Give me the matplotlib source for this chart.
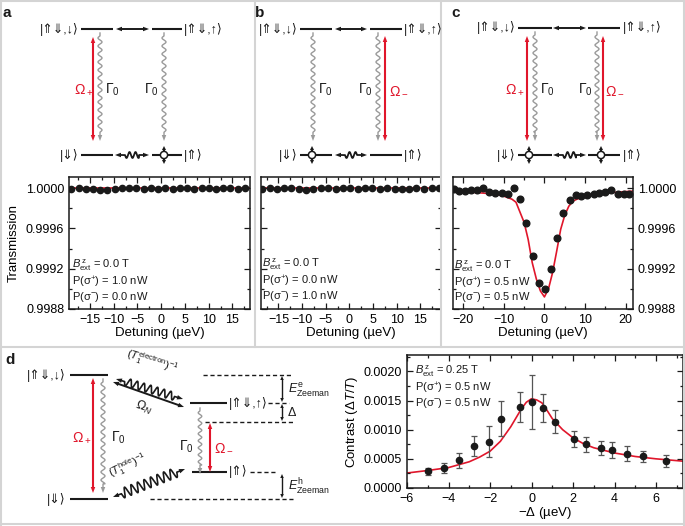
import numpy as np
import matplotlib.pyplot as plt
from matplotlib.patches import Polygon, Circle
from matplotlib.ticker import MultipleLocator, FormatStrFormatter

plt.rcParams['font.family'] = ['Liberation Sans', 'DejaVu Sans']
plt.rcParams['mathtext.fontset'] = 'custom'
plt.rcParams['mathtext.rm'] = 'Liberation Sans'
plt.rcParams['mathtext.it'] = 'Liberation Sans:italic'
plt.rcParams['mathtext.bf'] = 'Liberation Sans:bold'
plt.rcParams['mathtext.fallback'] = 'stixsans'

RED = '#e0162b'
GRAY = '#9a9a9a'
BLK = '#1a1a1a'

# ---- data: panel a (sigma+ only)
a_x = [-18.9, -17.4, -15.9, -14.3, -12.8, -11.3, -9.8, -8.3, -6.7, -5.2, -3.7, -2.2, -0.7,
       0.9, 2.4, 3.9, 5.4, 6.9, 8.5, 10.0, 11.5, 13.0, 14.5, 16.1, 17.6]
a_T = [0.99999, 1.00000, 0.99999, 0.99999, 0.99998, 0.99998, 0.99999, 1.00000, 1.00000, 1.00000,
       0.99999, 1.00000, 0.99999, 1.00000, 0.99999, 1.00000, 1.00000, 0.99999, 1.00000, 1.00000,
       0.99999, 1.00000, 1.00000, 0.99999, 1.00000]

# ---- panel b (sigma- only)
b_x = [-18.5, -16.9, -15.4, -13.8, -12.3, -10.7, -9.1, -7.6, -6.0, -4.5, -2.9, -1.3, 0.2,
       1.8, 3.3, 4.9, 6.5, 8.0, 9.6, 11.1, 12.7, 14.2, 15.8, 17.4, 18.9]
b_T = [0.99999, 1.00000, 0.99999, 1.00000, 1.00000, 0.99999, 0.99998, 0.99999, 1.00000, 1.00000,
       0.99999, 1.00000, 1.00000, 0.99999, 1.00000, 1.00000, 0.99999, 1.00000, 0.99999, 0.99999,
       0.99999, 1.00000, 0.99999, 1.00000, 1.00000]

# ---- panel c (both)
c_x = [-22.2, -21.0, -19.5, -18.1, -16.6, -15.1, -13.6, -12.1, -10.5, -9.0, -7.4, -5.9, -4.5,
       -2.8, -1.4, 0.1, 1.7, 3.1, 4.6, 6.2, 7.7, 9.1, 10.6, 12.1, 13.5, 15.0, 16.5, 18.1, 19.6, 20.9]
c_T = [0.99999, 0.99997, 0.99997, 0.99998, 0.99998, 1.00000, 0.99996, 0.99995, 0.99995, 0.99994,
       1.00000, 0.99989, 0.99965, 0.99933, 0.99906, 0.99900, 0.99920, 0.99950, 0.99975, 0.99988,
       0.99993, 0.99992, 0.99993, 0.99994, 0.99995, 0.99996, 0.99998, 0.99994, 0.99994, 0.99994]
c_fit_x = [-22.5, -18, -15, -12, -10, -8, -7, -6, -5, -4, -3, -2, -1, 0, 1, 2, 3, 4, 5, 6, 7, 8,
           10, 12, 15, 18, 21.8]
c_fit_T = [0.99997, 0.99996, 0.99995, 0.99994, 0.99992, 0.99989, 0.99986, 0.99976, 0.99966,
           0.99949, 0.99926, 0.99910, 0.99898, 0.99892, 0.99900, 0.99916, 0.99937, 0.99959,
           0.99973, 0.99982, 0.99987, 0.99989, 0.99992, 0.99994, 0.99995, 0.99996, 0.99997]

# ---- panel d (contrast vs -Delta)
d_x = [-4.97, -4.22, -3.49, -2.75, -2.03, -1.47, -0.55, 0.01, 0.57, 1.13, 2.05, 2.61, 3.34,
       3.90, 4.62, 5.36, 6.46]
d_C = [0.000285, 0.000343, 0.000473, 0.000713, 0.000794, 0.00119, 0.00139, 0.00148, 0.00137,
       0.00114, 0.000845, 0.000748, 0.00068, 0.00065, 0.000588, 0.000542, 0.000468]
d_err = [0.00006, 0.00008, 0.00013, 0.00017, 0.00027, 0.0003, 0.00025, 0.00046, 0.00024,
         0.0002, 0.00014, 0.00013, 0.00012, 0.00014, 0.00013, 0.0001, 0.0001]
d_fit_x = [-6, -5, -4, -3, -2.5, -2, -1.5, -1, -0.75, -0.5, -0.25, 0, 0.25, 0.5, 0.75, 1, 1.5,
           2, 2.5, 3, 4, 5, 6, 7.3]
d_fit_C = [0.000257, 0.0003, 0.00035, 0.00045, 0.00053, 0.00063, 0.0008, 0.00105, 0.0012,
           0.00135, 0.00147, 0.00153, 0.00151, 0.00146, 0.00133, 0.00119, 0.001, 0.00086,
           0.00076, 0.00069, 0.0006, 0.00054, 0.0005, 0.00046]

W, H = 685, 526
fig = plt.figure(figsize=(W / 100, H / 100), dpi=100)


def px_axes(x0, x1, y0, y1):
    return fig.add_axes([x0 / W, 1 - y1 / H, (x1 - x0) / W, (y1 - y0) / H])


def style(ax):
    ax.tick_params(which='both', direction='in', top=True, right=True, labelsize=9,
                   width=0.9, color=BLK)
    ax.tick_params(which='major', length=4)
    ax.tick_params(which='minor', length=2.5)
    for s in ax.spines.values():
        s.set_linewidth(1.1)
        s.set_color(BLK)


def trans_axes(ax, xlim):
    ax.set_xlim(*xlim)
    ax.set_ylim(0.9988, 1.00011)
    ax.yaxis.set_major_locator(MultipleLocator(0.0004))
    ax.yaxis.set_minor_locator(MultipleLocator(0.0002))
    ax.yaxis.set_major_formatter(FormatStrFormatter('%.4f'))
    style(ax)


axa = px_axes(69, 250, 177, 309)
trans_axes(axa, (-19.4, 18.7))
axa.axhline(1.0, color=RED, lw=1.2, zorder=1)
axa.plot(a_x, a_T, 'o', color=BLK, ms=4.5, zorder=2)
axa.set_xticks([-15, -10, -5, 0, 5, 10, 15])
axa.xaxis.set_minor_locator(MultipleLocator(2.5))
axa.set_ylabel('Transmission', fontsize=9.5, labelpad=4)
axa.set_xlabel('Detuning (µeV)', fontsize=9.5, labelpad=1)

axb = px_axes(261, 441, 177, 309)
trans_axes(axb, (-18.7, 19.4))
axb.axhline(1.0, color=RED, lw=1.2, zorder=1)
axb.plot(b_x, b_T, 'o', color=BLK, ms=4.5, zorder=2)
axb.set_xticks([-15, -10, -5, 0, 5, 10, 15])
axb.xaxis.set_minor_locator(MultipleLocator(2.5))
axb.tick_params(labelleft=False)
axb.set_xlabel('Detuning (µeV)', fontsize=9.5, labelpad=1)

axc = px_axes(453, 633, 177, 309)
trans_axes(axc, (-22.5, 21.8))
axc.plot(c_fit_x, c_fit_T, color=RED, lw=1.2, zorder=1)
axc.plot(c_x, c_T, 'o', color=BLK, ms=4.8, zorder=2)
axc.xaxis.set_major_locator(MultipleLocator(10))
axc.xaxis.set_minor_locator(MultipleLocator(5))
axc.tick_params(labelleft=False, labelright=True)
axc.set_xlabel('Detuning (µeV)', fontsize=9.5, labelpad=1)

axd = px_axes(407, 683, 355, 488)
axd.set_xlim(-6, 7.3)
axd.set_ylim(0, 0.00228)
axd.plot(d_fit_x, d_fit_C, color=RED, lw=1.2, zorder=1)
axd.errorbar(d_x, d_C, yerr=d_err, fmt='o', color=BLK, ecolor='#555555', ms=4.5,
             elinewidth=0.9, capsize=2, capthick=0.9, zorder=2)
axd.xaxis.set_major_locator(MultipleLocator(2))
axd.xaxis.set_minor_locator(MultipleLocator(1))
axd.yaxis.set_major_locator(MultipleLocator(0.0005))
axd.yaxis.set_minor_locator(MultipleLocator(0.00025))
axd.yaxis.set_major_formatter(FormatStrFormatter('%.4f'))
style(axd)
axd.set_ylabel(r'Contrast ($\mathit{Δ}T/T$)', fontsize=9.5, labelpad=3)
axd.set_xlabel(r'$-\mathit{Δ}$ (µeV)', fontsize=9.5, labelpad=0)

# ---- overlay in pixel coordinates for the level diagrams
ov = fig.add_axes([0, 0, 1, 1], facecolor='none')
ov.set_xlim(0, W)
ov.set_ylim(H, 0)
ov.axis('off')


def head(tip, u, color, hl=6, hw=4.5):
    tip = np.asarray(tip, float)
    n = np.array([-u[1], u[0]])
    base = tip - hl * u
    ov.add_patch(Polygon([tip, base + hw / 2 * n, base - hw / 2 * n], closed=True,
                         fc=color, ec='none', zorder=5))


def arrow(p0, p1, color=BLK, lw=1.4, both=True, hl=6, hw=4.5):
    p0, p1 = np.asarray(p0, float), np.asarray(p1, float)
    d = p1 - p0
    u = d / np.hypot(*d)
    a = p0 + (hl * 0.8 * u if both else 0)
    b = p1 - hl * 0.8 * u
    ov.plot([a[0], b[0]], [a[1], b[1]], color=color, lw=lw, solid_capstyle='butt', zorder=4)
    head(p1, u, color, hl, hw)
    if both:
        head(p0, -u, color, hl, hw)


def wavy(p0, p1, color=GRAY, amp=2.0, period=8.0, lw=1.0, both=False, flat=3, hl=6, hw=4.5):
    p0, p1 = np.asarray(p0, float), np.asarray(p1, float)
    d = p1 - p0
    L = np.hypot(*d)
    u = d / L
    n = np.array([-u[1], u[0]])
    s0 = (hl + flat) if both else flat
    s1 = hl + flat
    t = np.linspace(s0 - flat if both else 0, L - hl * 0.8, 600)
    w = np.where((t > s0) & (t < L - s1), amp * np.sin(2 * np.pi * (t - s0) / period), 0.0)
    pts = p0 + np.outer(t, u) + np.outer(w, n)
    ov.plot(pts[:, 0], pts[:, 1], color=color, lw=lw, zorder=4)
    head(p1, u, color, hl, hw)
    if both:
        head(p0, -u, color, hl, hw)


def level(x0, x1, y, lw=1.5):
    ov.plot([x0, x1], [y, y], color=BLK, lw=lw, solid_capstyle='butt', zorder=3)


def dashed(x0, x1, y):
    ov.plot([x0, x1], [y, y], color=BLK, lw=1.0, ls=(0, (3, 2)), zorder=3)


def spin(x, y):
    ov.plot([x, x], [y - 5, y + 5], color=BLK, lw=1.6, zorder=6)
    head((x, y - 9), np.array([0, -1.0]), BLK, hl=4, hw=4)
    head((x, y + 9), np.array([0, 1.0]), BLK, hl=4, hw=4)
    ov.add_patch(Circle((x, y), 3.6, fc='white', ec=BLK, lw=1.1, zorder=7))


def txt(x, y, s, ha='center', color=BLK, size=10, **kw):
    ov.text(x, y, s, ha=ha, va='center', color=color, fontsize=size, zorder=8, **kw)


KET_TL = '|⇑⇓,↓⟩'
KET_TR = '|⇑⇓,↑⟩'
KET_D = '|⇓⟩'
KET_U = '|⇑⟩'
KS = 9
OM_P = r'$\Omega_+$'
OM_M = r'$\Omega_-$'
GAM = r'$\Gamma_0$'

# frames
for seg in [((255, 255), (0, 347)), ((441, 441), (0, 347)), ((0, W), (347, 347)),
            ((1, 1), (0, H)), ((W - 1, W - 1), (0, H)), ((0, W), (1, 1)), ((0, W), (H - 2, H - 2))]:
    ov.plot(seg[0], seg[1], color='#d4d4d4', lw=1.5, zorder=0)

# panel a
txt(7, 13, 'a', ha='center', size=11, fontweight='bold')
level(81, 113, 29); level(152, 182, 29); level(81, 113, 155); level(152, 182, 155)
arrow((116, 29), (149, 29))
arrow((93, 37), (93, 141), color=RED, lw=1.5)
wavy((100, 33), (100, 141))
wavy((164, 33), (164, 141))
wavy((115, 155), (149, 155), color=BLK, amp=3, period=6, lw=1.3, both=True, flat=4)
spin(164, 155)
txt(79, 29, KET_TL, ha='right', size=KS); txt(184, 29, KET_TR, ha='left', size=KS)
txt(79, 155, KET_D, ha='right', size=KS); txt(184, 155, KET_U, ha='left', size=KS)
txt(84, 90, OM_P, ha='center', color=RED); txt(105, 90, GAM, ha='left')
txt(159, 90, GAM, ha='right')

# panel b
txt(260, 13, 'b', ha='center', size=11, fontweight='bold')
level(300, 332, 29); level(370, 402, 29); level(300, 332, 155); level(370, 402, 155)
arrow((335, 29), (367, 29))
wavy((313, 33), (313, 141))
wavy((378, 33), (378, 141))
arrow((385, 36), (385, 141), color=RED, lw=1.5)
wavy((335, 155), (367, 155), color=BLK, amp=3, period=6, lw=1.3, both=True, flat=4)
spin(312, 155)
txt(298, 29, KET_TL, ha='right', size=KS); txt(404, 29, KET_TR, ha='left', size=KS)
txt(298, 155, KET_D, ha='right', size=KS); txt(404, 155, KET_U, ha='left', size=KS)
txt(318, 90, GAM, ha='left'); txt(373, 90, GAM, ha='right')
txt(399, 90, OM_M, ha='center', color=RED)

# panel c
txt(456, 13, 'c', ha='center', size=11, fontweight='bold')
level(518, 552, 28); level(588, 620, 28); level(518, 552, 155); level(588, 620, 155)
arrow((553, 28), (586, 28))
arrow((527, 36), (527, 141), color=RED, lw=1.5)
wavy((535, 32), (535, 141))
wavy((597, 32), (597, 141))
arrow((603, 36), (603, 141), color=RED, lw=1.5)
wavy((553, 155), (586, 155), color=BLK, amp=3, period=6, lw=1.3, both=True, flat=4)
spin(529, 155); spin(601, 155)
txt(516, 28, KET_TL, ha='right', size=KS); txt(623, 28, KET_TR, ha='left', size=KS)
txt(516, 155, KET_D, ha='right', size=KS); txt(623, 155, KET_U, ha='left', size=KS)
txt(515, 90, OM_P, ha='center', color=RED); txt(540, 90, GAM, ha='left')
txt(593, 90, GAM, ha='right'); txt(615, 90, OM_M, ha='center', color=RED)

# panel a-c inset texts
for x0, ys, pp, pm in [(72, (265, 282, 297), '1.0', '0.0'), (262, (264, 281, 296), '0.0', '1.0'),
                       (454, (266, 283, 297), '0.5', '0.5')]:
    txt(x0, ys[0], r'$B^{\,\rm z}_{\rm ext}$ = 0.0 T', ha='left', size=8)
    txt(x0, ys[1], r'P(σ$^{+}$) = ' + pp + ' nW', ha='left', size=8)
    txt(x0, ys[2], r'P(σ$^{-}$) = ' + pm + ' nW', ha='left', size=8)

txt(415, 371, r'$B^{\,\rm z}_{\rm ext}$ = 0.25 T', ha='left', size=8)
txt(415, 388, r'P(σ$^{+}$) = 0.5 nW', ha='left', size=8)
txt(415, 403, r'P(σ$^{-}$) = 0.5 nW', ha='left', size=8)

# panel d diagram
txt(10, 360, 'd', ha='center', size=11, fontweight='bold')
level(70, 108, 375); level(70, 108, 499)
level(190, 227, 403); level(192, 227, 472)
txt(66, 375, KET_TL, ha='right', size=KS); txt(66, 499, KET_D, ha='right', size=KS)
txt(229, 403, KET_TR, ha='left', size=KS); txt(229, 472, KET_U, ha='left', size=KS)
arrow((93, 378), (93, 493), color=RED, lw=1.5)
wavy((103, 379), (103, 493))
txt(82, 438, OM_P, color=RED); txt(111, 438, GAM, ha='left')
arrow((113, 382), (184, 407))
wavy((116, 379), (183, 399), color=BLK, amp=4, period=7, lw=1.2, both=True, flat=3)
txt(152, 362, r'$(T_1^{\rm electron})^{-1}$', size=8, rotation=-17)
txt(144, 408, r'$\Omega_N$', size=9, rotation=-18)
wavy((113, 497), (185, 469), color=BLK, amp=5, period=7, lw=1.2, both=True, flat=3)
txt(128, 466, r'$(T_1^{\rm hole})^{-1}$', size=8, rotation=25)
dashed(203, 293, 375); dashed(268, 289, 403); dashed(205, 293, 422)
dashed(250, 275, 472); dashed(150, 293, 499)
wavy((200, 408), (200, 474), amp=1.8, period=7)
arrow((210, 423), (210, 472), color=RED, lw=1.5)
txt(186, 447, GAM, ha='center'); txt(224, 447, OM_M, ha='center', color=RED)
arrow((282, 376), (282, 402), lw=1.0, hl=4, hw=3.5)
arrow((282, 404), (282, 421), lw=1.0, hl=4, hw=3.5)
arrow((282, 474), (282, 498), lw=1.0, hl=4, hw=3.5)
txt(288, 390, r'$E^{\rm e}_{\rm Zeeman}$', ha='left', size=9)
txt(287, 413, r'$\mathit{Δ}$', ha='left', size=9)
txt(288, 487, r'$E^{\rm h}_{\rm Zeeman}$', ha='left', size=9)

fig.savefig('out.png', dpi=100)
